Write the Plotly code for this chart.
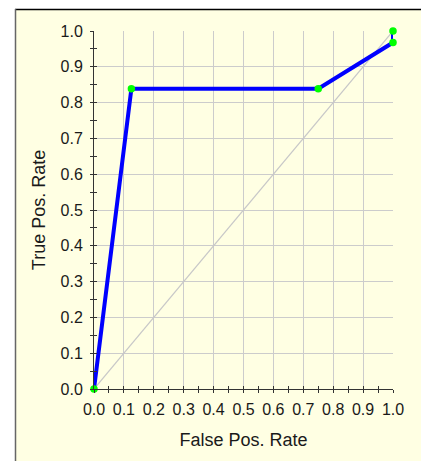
import plotly.graph_objects as go

# ROC data
fpr = [0.0, 0.125, 0.75, 1.0, 1.0]
tpr = [0.0, 0.8387, 0.8387, 0.9677, 1.0]
diag_x = [0.0, 1.0]
diag_y = [0.0, 1.0]
tick_vals = [i / 10 for i in range(11)]
tick_text = ["%.1f" % v for v in tick_vals]

W, H = 421, 461
ML, MR, MT, MB = 94, 28, 31, 72
PW, PH = W - ML - MR, H - MT - MB

def px2x(px):
    return (px - ML) / PW

def py2y(py):
    return (H - MB - py) / PH

BG = "#FFFFE3"
FONT = "Liberation Sans, Arial, sans-serif"

fig = go.Figure()
fig.add_trace(go.Scatter(x=diag_x, y=diag_y, mode="lines",
                         line=dict(color="#C8C8C8", width=1.2),
                         hoverinfo="skip", showlegend=False, cliponaxis=False))
fig.add_trace(go.Scatter(x=fpr, y=tpr, mode="lines+markers",
                         line=dict(color="#0000FF", width=4),
                         marker=dict(color="#00FF00", size=7.5),
                         showlegend=False, cliponaxis=False))
# invisible trace for overlay axes (crossing ticks)
fig.add_trace(go.Scatter(x=[0], y=[0], xaxis="x2", yaxis="y2", mode="markers",
                         marker=dict(opacity=0), showlegend=False, hoverinfo="skip"))

common_tick_font = dict(family=FONT, size=16, color="#1a1a1a")
title_font = dict(family=FONT, size=18, color="#1a1a1a")

fig.update_layout(
    width=W, height=H,
    margin=dict(l=ML, r=MR, t=MT, b=MB, pad=0),
    paper_bgcolor="white",
    plot_bgcolor="rgba(0,0,0,0)",
    xaxis=dict(range=[0, 1], tickvals=tick_vals, ticktext=tick_text,
               showgrid=True, gridcolor="#CCCCCC", gridwidth=1,
               showline=True, linecolor="#333333", linewidth=1,
               ticks="outside", ticklen=3, tickcolor="#333333",
               minor=dict(ticks="outside", dtick=0.05, ticklen=3, tickcolor="#333333", showgrid=False),
               tickfont=common_tick_font, zeroline=False,
               title=dict(text="False Pos. Rate", font=title_font, standoff=16),
               ticklabelstandoff=3),
    yaxis=dict(range=[0, 1], tickvals=tick_vals, ticktext=tick_text,
               showgrid=True, gridcolor="#CCCCCC", gridwidth=1,
               showline=True, linecolor="#333333", linewidth=1,
               ticks="outside", ticklen=3, tickcolor="#333333",
               minor=dict(ticks="outside", dtick=0.05, ticklen=3, tickcolor="#333333", showgrid=False),
               tickfont=common_tick_font, zeroline=False,
               title=dict(text="True Pos. Rate", font=title_font, standoff=10),
               ticklabelstandoff=4),
    xaxis2=dict(range=[0, 1], overlaying="x", anchor="y2", side="bottom",
                tickvals=tick_vals, showticklabels=False, showgrid=False, showline=False,
                zeroline=False, ticks="inside", ticklen=3, tickcolor="#333333",
                minor=dict(ticks="inside", dtick=0.05, ticklen=3, tickcolor="#333333", showgrid=False)),
    yaxis2=dict(range=[0, 1], overlaying="y", anchor="x2", side="left",
                tickvals=tick_vals, showticklabels=False, showgrid=False, showline=False,
                zeroline=False, ticks="inside", ticklen=3, tickcolor="#333333",
                minor=dict(ticks="inside", dtick=0.05, ticklen=3, tickcolor="#333333", showgrid=False)),
    shapes=[
        dict(type="rect", xref="paper", yref="paper", layer="below",
             x0=px2x(15), x1=px2x(W + 5), y0=py2y(H + 5), y1=py2y(9),
             fillcolor=BG, line=dict(width=0)),
        dict(type="line", xref="paper", yref="paper", layer="above",
             x0=px2x(15), x1=px2x(W + 5), y0=py2y(9.5), y1=py2y(9.5),
             line=dict(color="#000000", width=1.5)),
        dict(type="line", xref="paper", yref="paper", layer="above",
             x0=px2x(15.5), x1=px2x(15.5), y0=py2y(9), y1=py2y(H + 5),
             line=dict(color="#666666", width=1.5)),
    ],
)

fig.write_html("out.html")
